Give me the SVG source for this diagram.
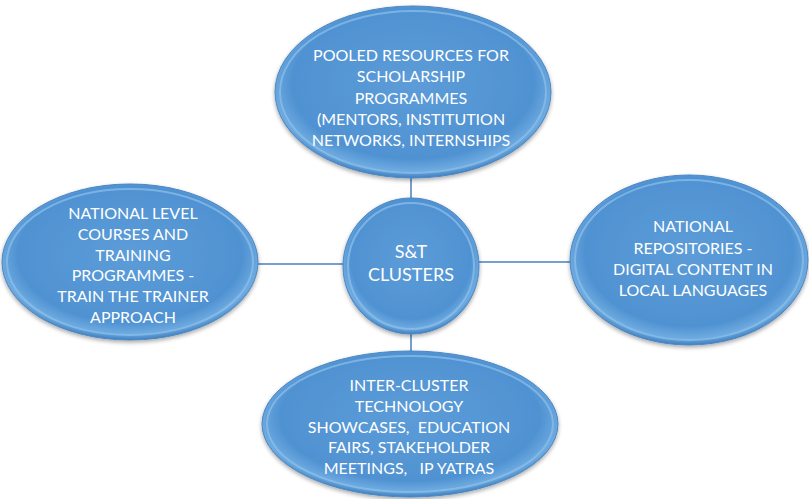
<svg xmlns="http://www.w3.org/2000/svg" width="809" height="499" viewBox="0 0 809 499">
<defs>
<radialGradient id="fill" cx="50%" cy="45%" r="55%">
<stop offset="0" stop-color="#5c9cd8"/>
<stop offset="0.8" stop-color="#5092d2"/>
<stop offset="0.93" stop-color="#6eabe0"/>
<stop offset="1" stop-color="#3f7fbf"/>
</radialGradient>
<filter id="sh" x="-10%" y="-10%" width="120%" height="125%">
<feGaussianBlur in="SourceAlpha" stdDeviation="2"/>
<feOffset dy="2"/>
<feComponentTransfer><feFuncA type="linear" slope="0.35"/></feComponentTransfer>
<feMerge><feMergeNode/><feMergeNode in="SourceGraphic"/></feMerge>
</filter>
</defs>
<style>
.node{fill:url(#fill);stroke:#4a86c2;stroke-width:1;filter:url(#sh)}
.rim{fill:none;stroke:#8fc1eb;stroke-width:2;opacity:0.7}
.t{font-family:Lato,"Open Sans","Liberation Sans",sans-serif;font-size:16px;fill:#ffffff;text-anchor:middle;white-space:pre}
.big{font-size:18px}
.conn{stroke:#4a7ebb;stroke-width:1.5;fill:none}
</style>
<rect width="809" height="499" fill="#ffffff"/>
<g id="connectors">
<line class="conn" x1="411" y1="176" x2="411" y2="200"/>
<line class="conn" x1="256" y1="264" x2="345" y2="264"/>
<line class="conn" x1="478" y1="262" x2="573" y2="262"/>
<line class="conn" x1="411" y1="332" x2="411" y2="352"/>
</g>
<g id="top">
<ellipse class="node" cx="413" cy="92" rx="138" ry="86"/>
<ellipse class="rim" cx="413" cy="92" rx="133" ry="81"/>
<text class="t" x="411" y="61">POOLED RESOURCES FOR</text>
<text class="t" x="411" y="82">SCHOLARSHIP</text>
<text class="t" x="411" y="104">PROGRAMMES</text>
<text class="t" x="411" y="125">(MENTORS, INSTITUTION</text>
<text class="t" x="411" y="146">NETWORKS, INTERNSHIPS</text>
</g>
<g id="left">
<ellipse class="node" cx="130" cy="262" rx="128" ry="78"/>
<ellipse class="rim" cx="130" cy="262" rx="123" ry="73"/>
<text class="t" x="133" y="219">NATIONAL LEVEL</text>
<text class="t" x="133" y="240">COURSES AND</text>
<text class="t" x="133" y="261">TRAINING</text>
<text class="t" x="133" y="281">PROGRAMMES -</text>
<text class="t" x="133" y="302">TRAIN THE TRAINER</text>
<text class="t" x="133" y="323">APPROACH</text>
</g>
<g id="center">
<circle class="node" cx="411" cy="266" r="68"/>
<circle class="rim" cx="411" cy="266" r="63"/>
<text class="t big" x="411" y="258">S&amp;T</text>
<text class="t big" x="411" y="281">CLUSTERS</text>
</g>
<g id="right">
<ellipse class="node" cx="689" cy="260" rx="119" ry="85"/>
<ellipse class="rim" cx="689" cy="260" rx="114" ry="80"/>
<text class="t" x="693" y="232">NATIONAL</text>
<text class="t" x="693" y="254">REPOSITORIES -</text>
<text class="t" x="693" y="275">DIGITAL CONTENT IN</text>
<text class="t" x="693" y="296">LOCAL LANGUAGES</text>
</g>
<g id="bottom">
<ellipse class="node" cx="410" cy="424" rx="148" ry="73"/>
<ellipse class="rim" cx="410" cy="424" rx="143" ry="68"/>
<text class="t" x="409" y="391">INTER-CLUSTER</text>
<text class="t" x="409" y="412">TECHNOLOGY</text>
<text class="t" x="409" y="433">SHOWCASES,  EDUCATION</text>
<text class="t" x="409" y="453">FAIRS, STAKEHOLDER</text>
<text class="t" x="409" y="474">MEETINGS,   IP YATRAS</text>
</g>
</svg>
